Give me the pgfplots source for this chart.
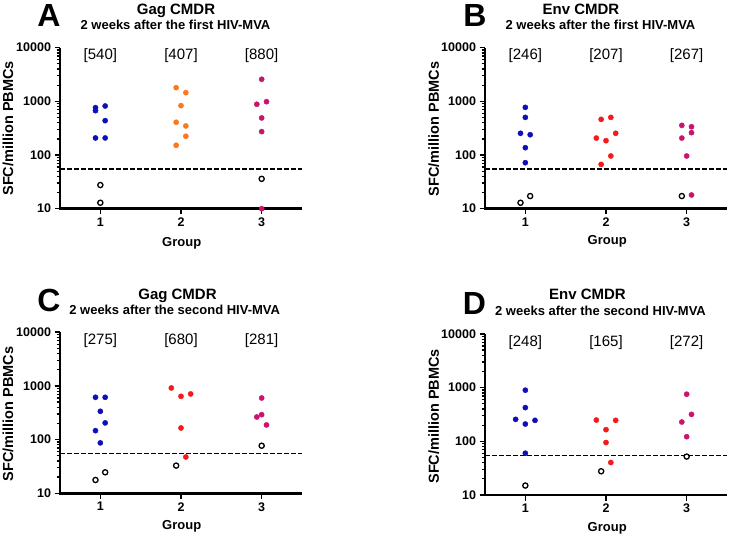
\documentclass[border=0pt]{standalone}
\usepackage{fontspec}
\setmainfont{Liberation Sans}
\usepackage{pgfplots}
\pgfplotsset{compat=1.18}
\definecolor{cblue}{RGB}{15,15,185}
\definecolor{corange}{RGB}{250,120,30}
\definecolor{cred}{RGB}{245,25,25}
\definecolor{cmag}{RGB}{200,20,110}
\pgfplotsset{every axis/.append style={
    scale only axis, width=242pt, height=161pt,
    ymin=10, ymax=10000, xmin=0.5, xmax=3.5,
    axis lines*=left, clip=false,
    axis line style={line width=2.5pt, black},
    every outer x axis line/.append style={line width=2.5pt, black},
    every outer y axis line/.append style={line width=2.5pt, black},
    xtick={1,2,3}, xticklabels={1,2,3},
    ytick={10,100,1000,10000}, yticklabels={10,100,1000,10000},
    yminorticks=true,
    minor ytick={20,30,40,50,60,70,80,90,200,300,400,500,600,700,800,900,2000,3000,4000,5000,6000,7000,8000,9000},
    tick align=outside, xtick pos=left, ytick pos=left,
    major tick length=5.5pt, minor tick length=3.5pt,
    every tick/.append style={line width=1.6pt, black},
    every major tick/.append style={line width=1.6pt, black},
    every minor tick/.append style={line width=1.3pt, black},
    tick label style={font=\fontsize{12.5}{12.5}\selectfont\bfseries},
  }}
\tikzset{
  myfilled/.style={only marks, mark=*, mark size=2.6pt, mark options={draw=#1, fill=#1}},
  myopen/.style={only marks, mark=*, mark size=2.6pt, mark options={draw=black, fill=white, line width=1.3pt}},
  mycut/.style={black, line width=1.5pt, dash pattern=on 4.5pt off 2.5pt},
  brk/.style={font=\fontsize{15}{15}\selectfont},
  yline/.style={line width=2.6pt, black}
}
\begin{document}
\begin{tikzpicture}
\useasboundingbox (0,0) rectangle (731pt,536pt);
% ---------- A
\begin{semilogyaxis}[name=pA, at={(60pt,327.3pt)}, anchor=south west]
\addplot[mycut] coordinates {(0.5,55) (3.5,55)};
\addplot[myfilled=cblue] coordinates {(0.94,763) (0.94,671) (1.06,820) (1.06,437) (0.94,208) (1.06,208)};
\addplot[myopen] coordinates {(1,27.6) (1,12.9)};
\addplot[myfilled=corange] coordinates {(1.94,1800) (2.06,1452) (2,832) (1.94,408) (2.06,348) (2.06,224) (1.94,152)};
\addplot[myfilled=cmag] coordinates {(3,2580) (2.94,883) (3.06,986) (3,491) (3,273) (3,10)};
\addplot[myopen] coordinates {(3,36)};
\node[brk] at (axis cs:1,7000) {[540]};
\node[brk] at (axis cs:2,7000) {[407]};
\node[brk] at (axis cs:3,7000) {[880]};
\end{semilogyaxis}
% ---------- B
\begin{semilogyaxis}[name=pB, at={(485pt,327.3pt)}, anchor=south west]
\addplot[mycut] coordinates {(0.5,55) (3.5,55)};
\addplot[myfilled=cblue] coordinates {(1,773) (1,503) (0.94,254) (1.06,239) (1,137) (1,72)};
\addplot[myopen] coordinates {(0.94,12.9) (1.06,17.2)};
\addplot[myfilled=cred] coordinates {(1.94,462) (2.06,503) (1.88,207) (2,185) (2.12,254) (2.06,96) (1.94,67)};
\addplot[myfilled=cmag] coordinates {(2.94,357) (3.06,337) (3.06,261) (2.94,207) (3,96) (3.06,18)};
\addplot[myopen] coordinates {(2.94,17.2)};
\node[brk] at (axis cs:1,7000) {[246]};
\node[brk] at (axis cs:2,7000) {[207]};
\node[brk] at (axis cs:3,7000) {[267]};
\end{semilogyaxis}
% ---------- C
\begin{semilogyaxis}[name=pC, at={(60pt,42.7pt)}, anchor=south west]
\addplot[mycut] coordinates {(0.5,55) (3.5,55)};
\addplot[myfilled=cblue] coordinates {(0.94,615) (1.06,615) (1,337) (1.06,205) (0.94,147) (1,87)};
\addplot[myopen] coordinates {(0.94,17.7) (1.06,24.6)};
\addplot[myfilled=cred] coordinates {(1.88,918) (2,641) (2.12,710) (2,165) (2.06,47.5)};
\addplot[myopen] coordinates {(1.94,32.8)};
\addplot[myfilled=cmag] coordinates {(3,597) (2.94,264) (3,292) (3.06,188)};
\addplot[myopen] coordinates {(3,77)};
\node[brk] at (axis cs:1,7000) {[275]};
\node[brk] at (axis cs:2,7000) {[680]};
\node[brk] at (axis cs:3,7000) {[281]};
\end{semilogyaxis}
% ---------- D
\begin{semilogyaxis}[name=pD, at={(485pt,41pt)}, anchor=south west]
\addplot[mycut] coordinates {(0.5,55) (3.5,55)};
\addplot[myfilled=cblue] coordinates {(1,897) (1,425) (0.88,257) (1.12,246) (1,210) (1,60)};
\addplot[myopen] coordinates {(1,15)};
\addplot[myfilled=cred] coordinates {(1.88,249) (2.12,246) (2,165) (2,95) (2.06,40.3)};
\addplot[myopen] coordinates {(1.94,27.7)};
\addplot[myfilled=cmag] coordinates {(3,755) (3.06,318) (2.94,229) (3,122)};
\addplot[myopen] coordinates {(3,52)};
\node[brk] at (axis cs:1,7000) {[248]};
\node[brk] at (axis cs:2,7000) {[165]};
\node[brk] at (axis cs:3,7000) {[272]};
\end{semilogyaxis}
% ---------- y axis lines
\draw[yline] ([yshift=-1.25pt]pA.south west) -- (pA.north west);
\draw[yline] ([yshift=-1.25pt]pB.south west) -- (pB.north west);
\draw[yline] ([yshift=-1.25pt]pC.south west) -- (pC.north west);
\draw[yline] ([yshift=-1.25pt]pD.south west) -- (pD.north west);
% ---------- texts
\tikzset{letter/.style={font=\fontsize{32}{32}\selectfont\bfseries},
  ttl/.style={font=\fontsize{15}{15}\selectfont\bfseries, anchor=base},
  sub/.style={font=\fontsize{13}{13}\selectfont\bfseries, anchor=base},
  lab/.style={font=\fontsize{14.5}{14.5}\selectfont\bfseries},
  grp/.style={font=\fontsize{13}{13}\selectfont\bfseries, anchor=base}}
\node[letter] at (49pt,520.5pt) {A};
\node[ttl] at (176pt,521pt) {Gag CMDR};
\node[sub] at (175.5pt,506.7pt) {2 weeks after the first HIV-MVA};
\node[letter] at (475pt,521pt) {B};
\node[ttl] at (581pt,521pt) {Env CMDR};
\node[sub] at (600.5pt,506.7pt) {2 weeks after the first HIV-MVA};
\node[letter] at (49pt,235.5pt) {C};
\node[ttl] at (177.5pt,236.3pt) {Gag CMDR};
\node[sub] at (174.7pt,221.3pt) {2 weeks after the second HIV-MVA};
\node[letter] at (474.5pt,233pt) {D};
\node[ttl] at (587.5pt,236.3pt) {Env CMDR};
\node[sub] at (600.5pt,220.7pt) {2 weeks after the second HIV-MVA};
\node[lab, rotate=90] at (8pt,407.7pt) {SFC/million PBMCs};
\node[lab, rotate=90] at (433.7pt,407.2pt) {SFC/million PBMCs};
\node[lab, rotate=90] at (8pt,122pt) {SFC/million PBMCs};
\node[lab, rotate=90] at (433.7pt,119.7pt) {SFC/million PBMCs};
\node[grp] at (181.7pt,289.3pt) {Group};
\node[grp] at (607.2pt,291pt) {Group};
\node[grp] at (181.7pt,6.3pt) {Group};
\node[grp] at (607.2pt,4.7pt) {Group};
\end{tikzpicture}
\end{document}
